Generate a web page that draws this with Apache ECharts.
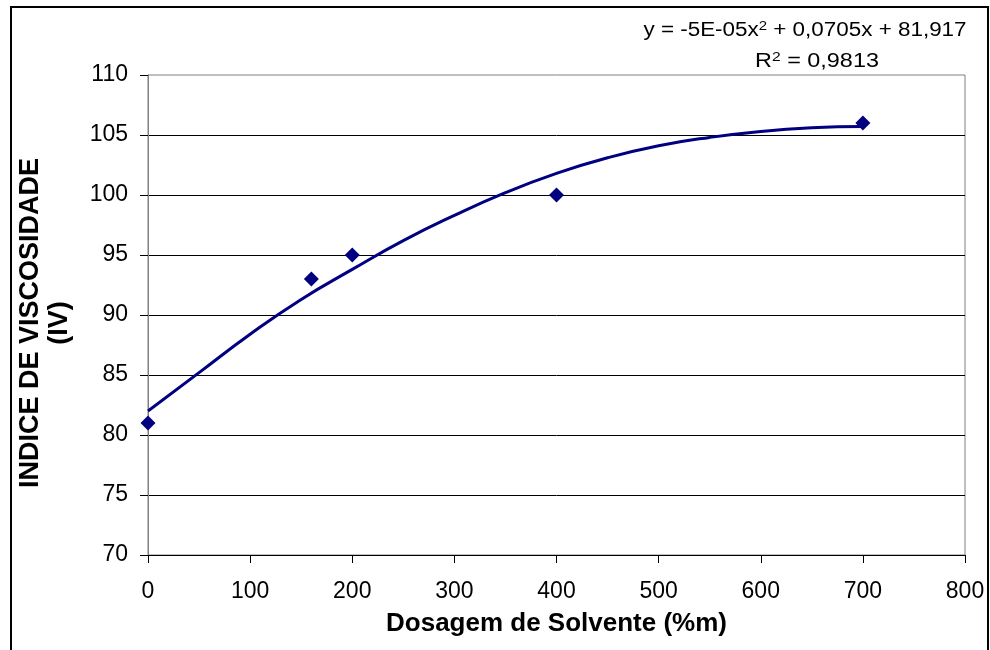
<!DOCTYPE html>
<html>
<head>
<meta charset="utf-8">
<script src="https://cdn.jsdelivr.net/npm/echarts@6/dist/echarts.min.js"></script>
<style>
html,body{margin:0;padding:0;background:#fff;}
#chart{width:990px;height:650px;}
</style>
</head>
<body>
<div id="chart"></div>
<script>
// Measured data points
const dosagem = [0, 160, 200, 400, 700];
const indiceViscosidade = [81, 93, 95, 100, 106];
// Trendline
const trendX = [0, 50, 100, 150, 200, 250, 300, 350, 400, 450, 500, 550, 600, 650, 700];
const trendY = [82.0, 85.2, 88.4, 91.3, 93.8, 96.2, 98.3, 100.2, 101.8, 103.1, 104.1, 104.8, 105.3, 105.6, 105.7];
// Axis ranges
const xRange = [0, 800, 100];
const yRange = [70, 110, 5];
// Texts
const xTitle = 'Dosagem de Solvente (%m)';
const yTitle = 'INDICE DE VISCOSIDADE\n(IV)';
const eqText = 'y = -5E-05x{sup|2} + 0,0705x + 81,917';
const r2Text = 'R{sup|2} = 0,9813';

const FONT = '"Liberation Sans", Arial, sans-serif';
const chart = echarts.init(document.getElementById('chart'), null, {renderer: 'canvas'});

const option = {
  backgroundColor: '#fff',
  animation: false,
  grid: {left: 148, right: 25, top: 75, bottom: 95, show: true, borderColor: '#808080', borderWidth: 1, backgroundColor: 'transparent'},
  xAxis: {
    type: 'value', min: xRange[0], max: xRange[1], interval: xRange[2],
    name: xTitle, nameLocation: 'middle', nameGap: 56,
    nameTextStyle: {fontFamily: FONT, fontSize: 26, fontWeight: 'bold', color: '#000'},
    axisLine: {show: true, lineStyle: {color: '#000', width: 1}},
    axisTick: {show: true, length: 8, lineStyle: {color: '#000'}},
    axisLabel: {fontFamily: FONT, fontSize: 23, color: '#000', margin: 25},
    splitLine: {show: false}
  },
  yAxis: {
    type: 'value', min: yRange[0], max: yRange[1], interval: yRange[2],
    name: yTitle, nameLocation: 'middle', nameGap: 74, nameRotate: 90,
    nameTextStyle: {fontFamily: FONT, fontSize: 27, fontWeight: 'bold', color: '#000', lineHeight: 29, padding: [0, 16, 0, 0]},
    axisLine: {show: true, lineStyle: {color: '#808080', width: 1}},
    axisTick: {show: true, length: 8, lineStyle: {color: '#000'}},
    axisLabel: {fontFamily: FONT, fontSize: 23, color: '#000', margin: 20},
    splitLine: {show: true, showMaxLine: false, showMinLine: false, lineStyle: {color: '#000', width: 1}}
  },
  series: [
    {
      type: 'line', name: 'Tendência',
      data: trendX.map((x, i) => [x, trendY[i]]),
      smooth: true, showSymbol: false, symbol: 'none',
      lineStyle: {color: '#000080', width: 3},
      z: 2
    },
    {
      type: 'scatter', name: 'IV',
      data: dosagem.map((x, i) => [x, indiceViscosidade[i]]),
      symbol: 'diamond', symbolSize: 15,
      itemStyle: {color: '#000080', opacity: 1},
      z: 3
    }
  ],
  graphic: [
    {
      type: 'rect', silent: true, z: 10,
      shape: {x: 11, y: 7, width: 977, height: 670},
      style: {fill: 'none', stroke: '#000', lineWidth: 2}
    },
    {
      type: 'text', x: 805, y: 31, scaleX: 1.15, z: 10,
      style: {
        text: eqText, fontFamily: FONT, fontSize: 19.5, fill: '#000',
        align: 'center', verticalAlign: 'middle', lineHeight: 22,
        rich: {sup: {fontFamily: FONT, fontSize: 13, lineHeight: 13, verticalAlign: 'top', fill: '#000'}}
      }
    },
    {
      type: 'text', x: 817, y: 62, scaleX: 1.2, z: 10,
      style: {
        text: r2Text, fontFamily: FONT, fontSize: 19.5, fill: '#000',
        align: 'center', verticalAlign: 'middle', lineHeight: 22,
        rich: {sup: {fontFamily: FONT, fontSize: 13, lineHeight: 13, verticalAlign: 'top', fill: '#000'}}
      }
    }
  ]
};
chart.setOption(option);
</script>
</body>
</html>
